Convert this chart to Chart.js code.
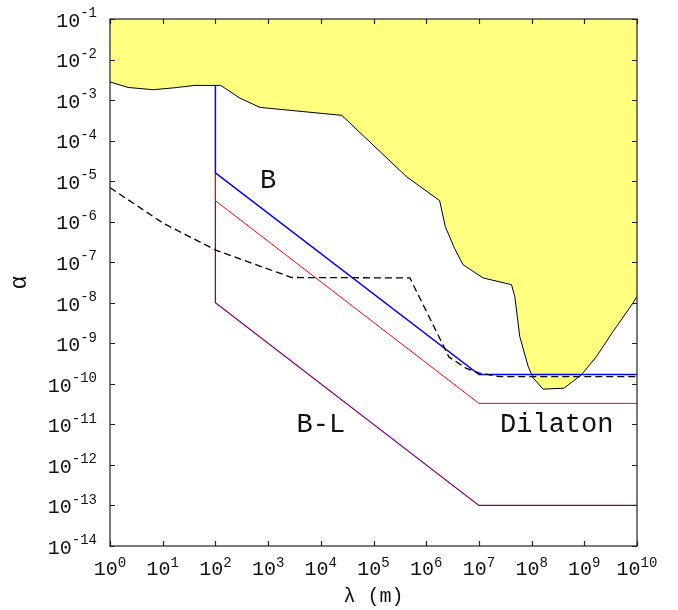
<!DOCTYPE html>
<html>
<head>
<meta charset="utf-8">
<script src="https://cdn.jsdelivr.net/npm/chart.js@4/dist/chart.umd.min.js"></script>
<style>
  html, body { margin: 0; padding: 0; background: #fff; }
  canvas { display: block; }
</style>
</head>
<body>
<canvas id="plot" width="678" height="610"></canvas>
<script>
// excluded region (yellow), upper boundary of the allowed area
const envLambda = [1, 2.2, 6.6, 16, 41, 126, 290, 700, 2.5e4, 4.2e5, 1.8e6, 2.3e6, 3.45e6, 5.0e6, 1.2e7,
                   4.15e7, 4.8e7, 5.96e7, 8.6e7, 1.07e8, 1.65e8, 4.1e8, 8.8e8, 1.7e9, 3.5e9, 8.4e9, 1e10];
const envAlpha  = [2.8e-3, 2.05e-3, 1.8e-3, 2.0e-3, 2.3e-3, 2.3e-3, 1.12e-3, 6.6e-4, 4.2e-4, 1.3e-5, 3.3e-6, 7.6e-7, 2.2e-7, 8.7e-8, 4.1e-8,
                   2.8e-8, 1.43e-8, 1.47e-9, 2.7e-10, 1.4e-10, 7.4e-11, 7.8e-11, 1.67e-10, 4.7e-10, 1.95e-9, 9.8e-9, 1.43e-8];

// B coupling (blue)
const bLambda = [100, 100, 1e7, 1e10];
const bAlpha  = [2.3e-3, 1.6e-5, 1.7e-10, 1.7e-10];

// dilaton (red)
const dilLambda = [100, 100, 1e7, 1e10];
const dilAlpha  = [1.6e-5, 3.3e-6, 3.3e-11, 3.3e-11];

// B-L (purple)
const blLambda = [100, 100, 1e7, 1e10];
const blAlpha  = [3.3e-6, 1e-8, 1e-13, 1e-13];

// projected sensitivity (dashed)
const projLambda = [1, 10.2, 105, 2800, 4.9e5, 2.7e6, 5.8e6, 1.04e7, 2.5e7, 1e10];
const projAlpha  = [6.9e-6, 9.2e-7, 1.95e-7, 4.2e-8, 4.1e-8, 4.6e-10, 2.4e-10, 1.84e-10, 1.5e-10, 1.5e-10];

// tick labels (powers of ten)
const xExponents = [0, 1, 2, 3, 4, 5, 6, 7, 8, 9, 10];
const yExponents = [-1, -2, -3, -4, -5, -6, -7, -8, -9, -10, -11, -12, -13, -14];

const pts = (xs, ys) => xs.map((x, i) => ({ x: x, y: ys[i] }));

const FONT = "'Liberation Mono', 'DejaVu Sans Mono', monospace";

const framePlugin = {
    id: 'frame',
    afterDraw(chart) {
        const ctx = chart.ctx;
        const a = chart.chartArea;
        const xs = chart.scales.x, ys = chart.scales.y;
        ctx.save();

        // box and inward ticks
        ctx.strokeStyle = '#222';
        ctx.lineWidth = 1.2;
        ctx.strokeRect(a.left, a.top, a.right - a.left, a.bottom - a.top);
        ctx.beginPath();
        xExponents.forEach(e => {
            const px = Math.round(xs.getPixelForValue(Math.pow(10, e))) + 0.5;
            ctx.moveTo(px, a.bottom); ctx.lineTo(px, a.bottom - 5);
            ctx.moveTo(px, a.top); ctx.lineTo(px, a.top + 5);
        });
        yExponents.forEach(e => {
            const py = Math.round(ys.getPixelForValue(Math.pow(10, e))) + 0.5;
            ctx.moveTo(a.left, py); ctx.lineTo(a.left + 5, py);
            ctx.moveTo(a.right, py); ctx.lineTo(a.right - 5, py);
        });
        ctx.stroke();

        // tick labels: 10 with raised exponent
        ctx.fillStyle = '#111';
        ctx.textBaseline = 'middle';
        const base = '20px ' + FONT, sup = '14px ' + FONT;
        yExponents.forEach(e => {
            const py = ys.getPixelForValue(Math.pow(10, e));
            ctx.font = sup;
            const s = String(e);
            const w = ctx.measureText(s).width;
            ctx.textAlign = 'right';
            ctx.fillText(s, 97, py - 5.5);
            ctx.font = base;
            ctx.fillText('10', 97 - w, py + 2.5);
        });
        xExponents.forEach(e => {
            const px = xs.getPixelForValue(Math.pow(10, e));
            const s = String(e);
            ctx.font = base;
            const wb = ctx.measureText('10').width;
            ctx.font = sup;
            const we = ctx.measureText(s).width;
            const x0 = px - (wb + we) / 2;
            ctx.textAlign = 'left';
            ctx.font = base;
            ctx.fillText('10', x0, 570);
            ctx.font = sup;
            ctx.fillText(s, x0 + wb, 563);
        });

        // axis titles
        ctx.font = '20px ' + FONT;
        ctx.textAlign = 'center';
        ctx.fillText('\u03bb (m)', (a.left + a.right) / 2, 597);
        ctx.save();
        ctx.translate(20, (a.top + a.bottom) / 2);
        ctx.rotate(-Math.PI / 2);
        ctx.font = '23px ' + FONT;
        ctx.fillText('\u03b1', 0, 0);
        ctx.restore();

        // curve names
        ctx.font = '27px ' + FONT;
        [['B', 1e3, 1e-5], ['B-L', 1e4, 1e-11], ['Dilaton', 3e8, 1e-11]].forEach(t => {
            ctx.fillText(t[0], xs.getPixelForValue(t[1]), ys.getPixelForValue(t[2]));
        });
        ctx.restore();
    }
};

const lineSet = (label, data, color, width, extra) => Object.assign({
    label: label, data: data, borderColor: color, borderWidth: width,
    pointRadius: 0, tension: 0, fill: false, order: 0
}, extra || {});

new Chart(document.getElementById('plot').getContext('2d'), {
    type: 'line',
    data: {
        datasets: [
            lineSet('Projected', pts(projLambda, projAlpha), '#000', 1.3, { borderDash: [7, 4] }),
            lineSet('B', pts(bLambda, bAlpha), '#0000ff', 1.5),
            lineSet('Dilaton', pts(dilLambda, dilAlpha), '#ff0000', 1),
            lineSet('B-L', pts(blLambda, blAlpha), '#800080', 1.3),
            lineSet('Excluded', pts(envLambda, envAlpha), '#000', 1,
                    { fill: 'end', backgroundColor: '#ffff80', order: 5 })
        ]
    },
    options: {
        responsive: false,
        animation: false,
        devicePixelRatio: 1,
        layout: { padding: { left: 110, right: 41, top: 19, bottom: 64 } },
        plugins: { legend: { display: false }, tooltip: { enabled: false } },
        scales: {
            x: {
                type: 'logarithmic', min: 1, max: 1e10,
                ticks: { display: false }, grid: { display: false }, border: { display: false },
                afterFit: s => { s.height = 0; }
            },
            y: {
                type: 'logarithmic', min: 1e-14, max: 1e-1,
                ticks: { display: false }, grid: { display: false }, border: { display: false },
                afterFit: s => { s.width = 0; }
            }
        }
    },
    plugins: [framePlugin]
});
</script>
</body>
</html>
